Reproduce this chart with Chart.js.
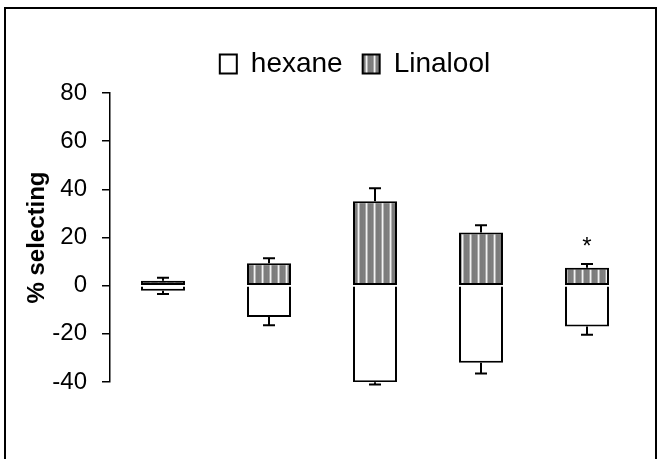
<!DOCTYPE html>
<html>
<head>
<meta charset="utf-8">
<script src="https://cdn.jsdelivr.net/npm/chart.js@4/dist/chart.umd.min.js"></script>
<style>
  html, body { margin: 0; padding: 0; background: #fff; }
  #c { display: block; }
</style>
</head>
<body>
<canvas id="c" width="660" height="459"></canvas>
<script>
// Response of each group: % choosing the solvent side (negative) vs the Linalool side (positive)
const categories = ['1', '2', '3', '4', '5'];
const hexane = [-2.1, -13.0, -40.1, -32.0, -17.0];
const hexaneErr = [1.4, 3.4, 0.9, 4.5, 3.4];
const linalool = [2.0, 9.3, 35.1, 22.1, 7.4];
const linaloolErr = [1.3, 2.1, 5.3, 3.0, 1.6];
const significance = ['', '', '', '', '*'];
const yTicks = [-40, -20, 0, 20, 40, 60, 80];

Chart.defaults.font.family = "'Liberation Sans', Arial, sans-serif";
Chart.defaults.color = '#000';

// Grey fill with thin light vertical stripes
function stripePattern() {
  const c = document.createElement('canvas');
  c.width = 8; c.height = 8;
  const g = c.getContext('2d');
  const cols = ['#7c7c7c', '#7c7c7c', '#7c7c7c', '#808080', '#7c7c7c', '#a8a8a8', '#f2f2f2', '#b4b4b4'];
  cols.forEach((col, i) => { g.fillStyle = col; g.fillRect(i, 0, 1, 8); });
  return g.createPattern(c, 'repeat');
}

const errorBars = {
  id: 'errorBars',
  afterDatasetsDraw(chart) {
    const y = chart.scales.y;
    const ctx = chart.ctx;
    ctx.save();
    ctx.strokeStyle = '#000';
    ctx.lineWidth = 2;
    const sets = [[0, hexane, hexaneErr, -1], [1, linalool, linaloolErr, 1]];
    sets.forEach(([di, vals, errs, dir]) => {
      chart.getDatasetMeta(di).data.forEach((bar, i) => {
        const y0 = y.getPixelForValue(vals[i]);
        const y1 = y.getPixelForValue(vals[i] + dir * errs[i]);
        ctx.beginPath();
        ctx.moveTo(bar.x, y0);
        ctx.lineTo(bar.x, y1);
        ctx.moveTo(bar.x - 6, y1);
        ctx.lineTo(bar.x + 6, y1);
        ctx.stroke();
      });
    });
    // significance marks above the upper error bars
    ctx.fillStyle = '#000';
    ctx.font = "24px 'Liberation Sans', Arial, sans-serif";
    ctx.textAlign = 'center';
    ctx.textBaseline = 'middle';
    chart.getDatasetMeta(1).data.forEach((bar, i) => {
      if (!significance[i]) return;
      const yTop = y.getPixelForValue(linalool[i] + linaloolErr[i]);
      ctx.fillText(significance[i], bar.x, yTop - 17);
    });
    ctx.restore();
  }
};

// Outer frame around the figure
const frame = {
  id: 'frame',
  beforeDraw(chart) {
    const ctx = chart.ctx;
    ctx.save();
    ctx.fillStyle = '#fff';
    ctx.fillRect(0, 0, chart.width, chart.height);
    ctx.strokeStyle = '#000';
    ctx.lineWidth = 2;
    ctx.strokeRect(5, 8, 651, 480);
    ctx.restore();
  }
};

// Centre the legend over the plotted bars and lift it a little
const legendShift = {
  id: 'legendShift',
  afterLayout(chart) {
    const lg = chart.legend;
    if (lg) {
      lg.left += 35;
      lg.right += 35;
      lg.top -= 5;
      lg.bottom -= 5;
    }
  }
};

new Chart(document.getElementById('c'), {
  type: 'bar',
  data: {
    labels: categories,
    datasets: [
      {
        label: 'hexane',
        data: hexane,
        backgroundColor: '#fff',
        borderColor: '#000',
        borderWidth: 2,
        borderSkipped: 'start',
        categoryPercentage: 1,
        barPercentage: 0.415
      },
      {
        label: 'Linalool',
        data: linalool,
        backgroundColor: stripePattern(),
        borderColor: '#000',
        borderWidth: 2,
        borderSkipped: false,
        categoryPercentage: 1,
        barPercentage: 0.415
      }
    ]
  },
  options: {
    responsive: false,
    animation: false,
    layout: { padding: { top: 35, left: 0, right: 20, bottom: 77 } },
    plugins: {
      legend: {
        position: 'top',
        labels: {
          font: { size: 28 },
          color: '#000',
          boxWidth: 17,
          boxHeight: 19,
          padding: 20
        }
      },
      tooltip: { enabled: false }
    },
    scales: {
      x: { stacked: true, display: false },
      y: {
        stacked: true,
        min: -40,
        max: 80,
        afterBuildTicks: s => { s.ticks = yTicks.map(v => ({ value: v })); },
        afterFit: s => { s.width = 110; },
        border: { display: true, color: '#000', width: 1.5 },
        grid: { drawOnChartArea: false, drawTicks: true, tickLength: 8, color: '#000', lineWidth: 1.5 },
        ticks: { font: { size: 24 }, color: '#000', padding: 15 },
        title: {
          display: true,
          text: '% selecting',
          font: { size: 24, weight: 'bold' },
          color: '#000',
          padding: { top: 23, bottom: 0 }
        }
      }
    }
  },
  plugins: [frame, legendShift, errorBars]
});
</script>
</body>
</html>
